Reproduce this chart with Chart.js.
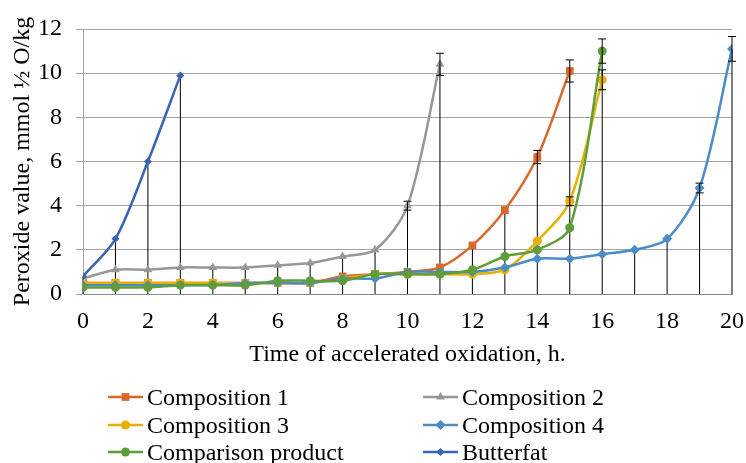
<!DOCTYPE html>
<html>
<head>
<meta charset="utf-8">
<script src="https://cdn.jsdelivr.net/npm/chart.js@4.4.1/dist/chart.umd.min.js"></script>
<style>
  html, body { margin: 0; padding: 0; background: #fff; overflow: hidden; }
  #wrap { position: relative; width: 746px; height: 463px; overflow: hidden; }
  #chart { position: absolute; left: 0; top: 0; }
  .leg { position: absolute; height: 28px; display: flex; align-items: center; white-space: nowrap;
         font-family: 'Liberation Serif', 'Times New Roman', serif; font-size: 24px; color: #000; }
  .leg canvas { margin-right: 3px; }
</style>
</head>
<body>
<div id="wrap">
  <canvas id="chart" width="746" height="463"></canvas>
</div>
<script>
// ---- data ----
const hours = [0,1,2,3,4,5,6,7,8,9,10,11,12,13,14,15,16,17,18,19,20];
const xTicks = [0,2,4,6,8,10,12,14,16,18,20];
const yTicks = [0,2,4,6,8,10,12];

const seriesNames = ['Composition 1','Composition 2','Composition 3','Composition 4','Comparison product','Butterfat'];

const comp1     = [0.5,0.5,0.5,0.5,0.5,0.5,0.5,0.5,0.8,0.9,1.0,1.2,2.2,3.8,6.2,10.1];
const comp2     = [0.7,1.1,1.1,1.2,1.2,1.2,1.3,1.4,1.7,2.0,4.0,10.4];
const comp3     = [0.5,0.5,0.5,0.5,0.5,0.5,0.5,0.5,0.7,0.9,0.9,0.9,0.9,1.1,2.4,4.2,9.7];
const comp4     = [0.4,0.4,0.4,0.4,0.4,0.5,0.5,0.5,0.7,0.7,1.0,1.0,1.0,1.2,1.6,1.6,1.8,2.0,2.5,4.8,11.1];
const compProd  = [0.3,0.3,0.3,0.4,0.4,0.4,0.6,0.6,0.6,0.9,0.9,0.9,1.1,1.7,2.0,3.0,11.0];
const butterfat = [0.8,2.5,6.0,9.9];

const err1     = [0,0,0,0,0,0,0,0,0,0,0,0,0,0,0.3,0.5];
const err2     = [0,0,0,0,0,0,0,0,0,0,0.2,0.5];
const err3     = [0,0,0,0,0,0,0,0,0,0,0,0,0,0,0,0.2,0.45];
const err4     = [0,0,0,0,0,0,0,0,0,0,0,0,0,0,0,0,0,0,0,0.22,0.56];
const errProd  = [0,0,0,0,0,0,0,0,0,0,0,0,0,0,0,0,0.55];
const errButter= [0,0,0,0];

// ---- styles ----
const seriesValues = [comp1, comp2, comp3, comp4, compProd, butterfat];
const seriesErrors = [err1, err2, err3, err4, errProd, errButter];
const colors = ['#D9692B','#979797','#E8B000','#4B8BC8','#5E9D3A','#3A63B4'];
const pStyles = ['rect','triangle','circle','rectRot','circle','rectRot'];
const pRadius = [5.5,5,4.5,5,4.5,4];

const FONT = "'Liberation Serif', 'Times New Roman', serif";

const datasets = seriesValues.map((vals, i) => ({
  label: seriesNames[i],
  data: vals.map((v, j) => ({ x: hours[j], y: v })),
  errors: seriesErrors[i],
  borderColor: colors[i],
  backgroundColor: colors[i],
  borderWidth: 2.5,
  pointStyle: pStyles[i],
  pointRadius: pRadius[i],
  pointBorderWidth: 0,
  pointHoverRadius: pRadius[i],
  tension: 0.3,
  order: seriesValues.length - i
}));

// drop lines from the highest point at each hour down to the axis
const dropLines = {
  id: 'dropLines',
  beforeDatasetsDraw(chart) {
    const { ctx, scales: { x, y } } = chart;
    ctx.save();
    ctx.strokeStyle = '#000';
    ctx.lineWidth = 1;
    hours.forEach((h, j) => {
      let m = null;
      seriesValues.forEach(vals => {
        if (j < vals.length && vals[j] != null) m = (m === null) ? vals[j] : Math.max(m, vals[j]);
      });
      if (m === null) return;
      const px = x.getPixelForValue(h);
      ctx.beginPath();
      ctx.moveTo(px, y.getPixelForValue(m));
      ctx.lineTo(px, y.getPixelForValue(0));
      ctx.stroke();
    });
    ctx.restore();
  }
};

// error bars
const errorBars = {
  id: 'errorBars',
  afterDatasetsDraw(chart) {
    const { ctx, scales: { x, y } } = chart;
    ctx.save();
    ctx.strokeStyle = '#000';
    ctx.lineWidth = 1;
    chart.data.datasets.forEach(ds => {
      ds.data.forEach((p, j) => {
        const e = ds.errors[j];
        if (!e) return;
        const px = x.getPixelForValue(p.x);
        const top = y.getPixelForValue(p.y + e);
        const bot = y.getPixelForValue(p.y - e);
        ctx.beginPath();
        ctx.moveTo(px, top); ctx.lineTo(px, bot);
        ctx.moveTo(px - 4, top); ctx.lineTo(px + 4, top);
        ctx.moveTo(px - 4, bot); ctx.lineTo(px + 4, bot);
        ctx.stroke();
      });
    });
    ctx.restore();
  }
};

new Chart(document.getElementById('chart'), {
  type: 'line',
  data: { datasets },
  options: {
    responsive: false,
    animation: false,
    devicePixelRatio: 1,
    layout: { padding: { top: 29, right: 14, left: 0, bottom: 0 } },
    plugins: { legend: { display: false }, tooltip: { enabled: false } },
    scales: {
      x: {
        type: 'linear',
        min: 0, max: 20,
        afterFit(s) { s.height = 169; s.paddingLeft = 0; s.paddingRight = 0; },
        afterBuildTicks(s) { s.ticks = xTicks.map(v => ({ value: v })); },
        grid: { display: false, drawTicks: false },
        border: { display: true, color: '#8a8a8a', width: 1 },
        ticks: { font: { family: FONT, size: 24 }, color: '#000', padding: 13.5, maxRotation: 0, autoSkip: false },
        title: { display: true, text: 'Time of accelerated oxidation, h.', color: '#000',
                 font: { family: FONT, size: 24 }, padding: { top: 0, bottom: 93.6 } }
      },
      y: {
        min: 0, max: 12,
        afterFit(s) { s.width = 83; },
        afterBuildTicks(s) { s.ticks = yTicks.map(v => ({ value: v })); },
        grid: { color: '#a3a3a3', lineWidth: 1, drawTicks: true, tickLength: 7, tickColor: '#a3a3a3' },
        border: { display: true, color: '#a3a3a3', width: 1 },
        ticks: { font: { family: FONT, size: 24 }, color: '#000', padding: 14 },
        title: { display: true, text: 'Peroxide value, mmol ½ O/kg', color: '#000',
                 font: { family: FONT, size: 24 }, padding: { top: 8.6, bottom: 0 } }
      }
    }
  },
  plugins: [dropLines, errorBars]
});

// ---- legend (two columns) ----
const legendPos = [
  { left: 107, top: 397 }, { left: 422, top: 397 },
  { left: 107, top: 425 }, { left: 422, top: 425 },
  { left: 107, top: 452 }, { left: 422, top: 452 }
];
const wrap = document.getElementById('wrap');
seriesNames.forEach((name, i) => {
  const item = document.createElement('div');
  item.className = 'leg';
  item.style.left = legendPos[i].left + 'px';
  item.style.top = (legendPos[i].top - 14) + 'px';
  const c = document.createElement('canvas');
  c.width = 37; c.height = 16;
  const g = c.getContext('2d');
  g.strokeStyle = colors[i];
  g.lineWidth = 2.5;
  g.beginPath(); g.moveTo(1, 8); g.lineTo(36, 8); g.stroke();
  g.fillStyle = colors[i];
  Chart.helpers.drawPoint(g, { pointStyle: pStyles[i], radius: pRadius[i], borderWidth: 0, rotation: 0 }, 18.5, 8);
  item.appendChild(c);
  const t = document.createElement('span');
  t.textContent = name;
  item.appendChild(t);
  wrap.appendChild(item);
});
</script>
</body>
</html>
